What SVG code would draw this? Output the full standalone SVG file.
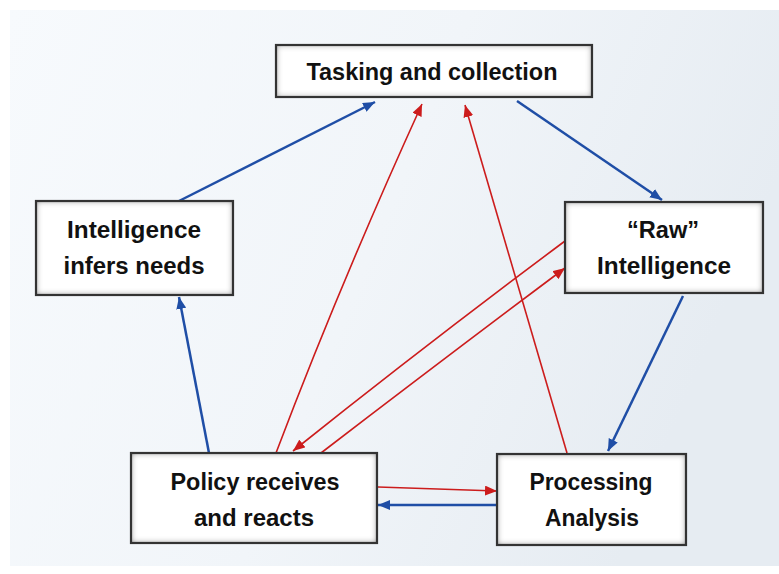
<svg xmlns="http://www.w3.org/2000/svg" width="779" height="574" viewBox="0 0 779 574">
<defs>
<linearGradient id="bg" x1="0" y1="0" x2="1" y2="0.3">
<stop offset="0" stop-color="#f7fafd"/>
<stop offset="0.55" stop-color="#f1f5f9"/>
<stop offset="1" stop-color="#e6ecf2"/>
</linearGradient>
<filter id="inner" x="-5%" y="-5%" width="110%" height="110%">
<feFlood flood-color="#444"/>
<feComposite in2="SourceAlpha" operator="out"/>
<feGaussianBlur stdDeviation="3"/>
<feComposite in2="SourceAlpha" operator="in" result="sh"/>
<feMerge><feMergeNode in="SourceGraphic"/><feMergeNode in="sh"/></feMerge>
</filter>
<marker id="ab" viewBox="0 0 12 10" refX="12" refY="5" markerWidth="12" markerHeight="10" markerUnits="userSpaceOnUse" orient="auto">
<path d="M0,0 L12,5 L0,10 z" fill="#1f4ea6"/>
</marker>
<marker id="ar" viewBox="0 0 12 10" refX="12" refY="5" markerWidth="12" markerHeight="10" markerUnits="userSpaceOnUse" orient="auto">
<path d="M0,0 L12,5 L0,10 z" fill="#cc1c1c"/>
</marker>
</defs>
<style>
.box{fill:#fff;filter:url(#inner)}
.bd{fill:none;stroke:#333;stroke-width:2.2}
.t{font-family:"Liberation Sans",Arial,sans-serif;font-weight:bold;font-size:23px;fill:#111;text-anchor:middle}
.b{fill:none;stroke:#1f4ea6;stroke-width:2.5;marker-end:url(#ab)}
.r{fill:none;stroke:#cc1c1c;stroke-width:1.6;marker-end:url(#ar)}
</style>
<rect x="0" y="0" width="779" height="574" fill="#fff"/>
<rect x="10" y="10" width="769" height="556" fill="url(#bg)"/>
<g id="connectors">
<path class="b" d="M179,201 L375,102"/>
<path class="b" d="M517,101 L662,200"/>
<path class="b" d="M683,296 L608,451"/>
<path class="b" d="M209,453 L179,297"/>
<path class="b" d="M497,505 L378,505"/>
<path class="r" d="M276,453 Q340,284 422,104"/>
<path class="r" d="M567,453 L465,105"/>
<path class="r" d="M565,241 Q427,344 293,451"/>
<path class="r" d="M321,453 Q445,358 565,268"/>
<path class="r" d="M378,487 L497,491"/>
</g>
<g id="tasking">
<rect class="box" x="276" y="45" width="316" height="52"/>
<rect class="bd" x="276" y="45" width="316" height="52"/>
<text class="t" x="432" y="80" textLength="251" lengthAdjust="spacingAndGlyphs">Tasking and collection</text>
</g>
<g id="infers">
<rect class="box" x="36" y="201" width="197" height="94"/>
<rect class="bd" x="36" y="201" width="197" height="94"/>
<text class="t" x="134" y="238" textLength="134" lengthAdjust="spacingAndGlyphs">Intelligence</text>
<text class="t" x="134" y="274" textLength="141" lengthAdjust="spacingAndGlyphs">infers needs</text>
</g>
<g id="raw">
<rect class="box" x="565" y="202" width="198" height="91"/>
<rect class="bd" x="565" y="202" width="198" height="91"/>
<text class="t" x="663" y="238" textLength="72" lengthAdjust="spacingAndGlyphs">“Raw”</text>
<text class="t" x="664" y="274" textLength="134" lengthAdjust="spacingAndGlyphs">Intelligence</text>
</g>
<g id="policy">
<rect class="box" x="131" y="453" width="246" height="90"/>
<rect class="bd" x="131" y="453" width="246" height="90"/>
<text class="t" x="255" y="490" textLength="169" lengthAdjust="spacingAndGlyphs">Policy receives</text>
<text class="t" x="254" y="526" textLength="120" lengthAdjust="spacingAndGlyphs">and reacts</text>
</g>
<g id="processing">
<rect class="box" x="497" y="454" width="189" height="91"/>
<rect class="bd" x="497" y="454" width="189" height="91"/>
<text class="t" x="591" y="490" textLength="123" lengthAdjust="spacingAndGlyphs">Processing</text>
<text class="t" x="592" y="526" textLength="94" lengthAdjust="spacingAndGlyphs">Analysis</text>
</g>
</svg>
